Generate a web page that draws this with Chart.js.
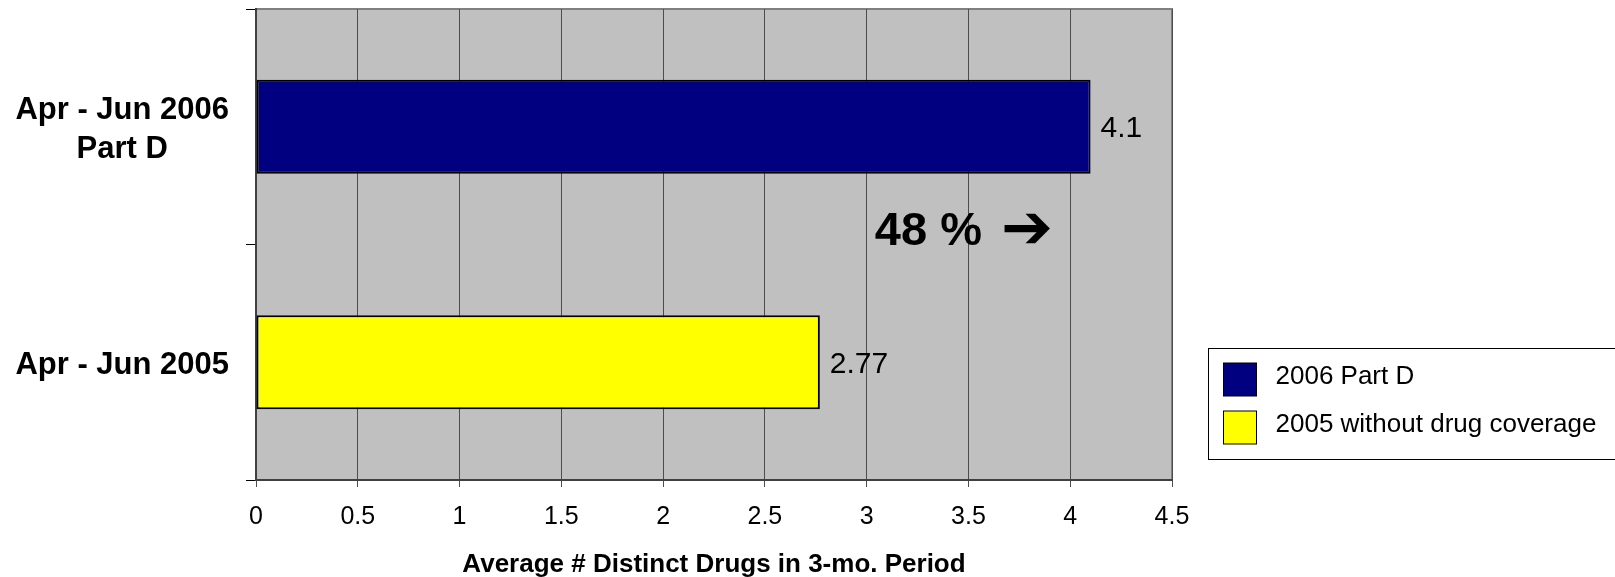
<!DOCTYPE html>
<html>
<head>
<meta charset="utf-8">
<script src="https://cdn.jsdelivr.net/npm/chart.js@4.4.1/dist/chart.umd.min.js"></script>
<style>
  html, body { margin: 0; padding: 0; background: #fff; }
</style>
</head>
<body>
<canvas id="drugChart" width="1615" height="577"></canvas>
<script>
// data
const categories = [['Apr - Jun 2006', 'Part D'], 'Apr - Jun 2005'];
const seriesNames = ['2006 Part D', '2005 without drug coverage'];
const partD2006 = [4.1, null];
const noCoverage2005 = [null, 2.77];
const xMin = 0, xMax = 4.5, xStep = 0.5;
const axisTitle = 'Average # Distinct Drugs in 3-mo. Period';
const changeNote = '48 %';

const FONT = '"Liberation Sans", Arial, sans-serif';

// grey plot area + its frame
const plotBackground = {
  id: 'plotBackground',
  beforeDraw(chart) {
    const { ctx, chartArea: a } = chart;
    ctx.save();
    ctx.fillStyle = '#c0c0c0';
    ctx.fillRect(a.left, a.top, a.right - a.left, a.bottom - a.top);
    ctx.strokeStyle = '#808080';
    ctx.lineWidth = 2;
    ctx.strokeRect(a.left, a.top, a.right - a.left, a.bottom - a.top);
    ctx.restore();
  }
};

// value at the end of each bar, and the 48 % note
const barNotes = {
  id: 'barNotes',
  afterDatasetsDraw(chart) {
    const { ctx } = chart;
    ctx.save();
    ctx.fillStyle = '#000';
    ctx.textBaseline = 'middle';
    ctx.textAlign = 'left';
    ctx.font = '30px ' + FONT;
    chart.data.datasets.forEach((ds, i) => {
      chart.getDatasetMeta(i).data.forEach((bar, j) => {
        if (ds.data[j] == null) return;
        ctx.fillText(String(ds.data[j]), bar.x + 10, bar.y + 2);
      });
    });

    const xs = chart.scales.x, ys = chart.scales.y;
    const nx = xs.getPixelForValue(3.04);
    const ny = ys.getPixelForValue(0.445);
    ctx.font = 'bold 47px ' + FONT;
    ctx.fillText(changeNote, nx, ny);
    const w = ctx.measureText(changeNote).width;
    ctx.font = 'bold 62px "DejaVu Sans"';
    ctx.fillText('\u2794', nx + w + 19, ny);
    ctx.restore();
  }
};

// boxed legend at the lower right
const boxLegend = {
  id: 'boxLegend',
  afterDraw(chart) {
    const { ctx } = chart;
    const left = 1208.5, top = 348.5;
    ctx.save();
    ctx.strokeStyle = '#000';
    ctx.lineWidth = 1;
    ctx.strokeRect(left, top, 407, 111);
    ctx.font = '26px ' + FONT;
    ctx.textBaseline = 'alphabetic';
    ctx.textAlign = 'left';
    chart.data.datasets.forEach((ds, i) => {
      const y = top + 14.5 + i * 48;
      ctx.fillStyle = ds.backgroundColor;
      ctx.fillRect(left + 15, y, 33, 33);
      ctx.strokeRect(left + 15, y, 33, 33);
      ctx.fillStyle = '#000';
      ctx.fillText(ds.label, left + 67, y + 21);
    });
    ctx.restore();
  }
};

const ctx = document.getElementById('drugChart').getContext('2d');
const drugChart = new Chart(ctx, {
  type: 'bar',
  data: {
    labels: categories,
    datasets: [
      {
        label: seriesNames[0],
        data: partD2006,
        backgroundColor: '#000080',
        borderColor: '#000',
        borderWidth: 2,
        borderSkipped: false,
      },
      {
        label: seriesNames[1],
        data: noCoverage2005,
        backgroundColor: '#ffff00',
        borderColor: '#000',
        borderWidth: 2,
        borderSkipped: false,
      },
    ],
  },
  options: {
    indexAxis: 'y',
    responsive: false,
    animation: false,
    categoryPercentage: 0.8,
    barPercentage: 0.5,
    layout: { padding: { top: 9, right: 443, bottom: 0, left: 0 } },
    plugins: {
      legend: { display: false },
      tooltip: { enabled: false },
    },
    scales: {
      x: {
        min: xMin,
        max: xMax,
        stacked: true,
        ticks: {
          stepSize: xStep,
          color: '#000',
          padding: 15,
          font: { family: FONT, size: 25 },
          callback: (value) => String(value),
        },
        grid: { color: '#4d4d4d', lineWidth: 1, tickLength: 7 },
        border: { color: '#404040', width: 2 },
        title: {
          display: true,
          text: axisTitle,
          color: '#000',
          font: { family: FONT, size: 26, weight: 'bold' },
          padding: { top: 0, bottom: -3 },
        },
        afterFit(scale) {
          scale.height = 97;
          scale.paddingLeft = 0;
          scale.paddingRight = 0;
        },
      },
      y: {
        stacked: true,
        ticks: {
          color: '#000',
          padding: 17,
          labelOffset: 3,
          crossAlign: 'center',
          font: { family: FONT, size: 31, weight: 'bold', lineHeight: 1.27 },
        },
        grid: { drawOnChartArea: false, tickLength: 10, color: '#000' },
        border: { color: '#404040', width: 2 },
        afterFit(scale) {
          scale.width = 256;
          scale.paddingTop = 0;
          scale.paddingBottom = 0;
        },
      },
    },
  },
  plugins: [plotBackground, barNotes, boxLegend],
});
</script>
</body>
</html>
